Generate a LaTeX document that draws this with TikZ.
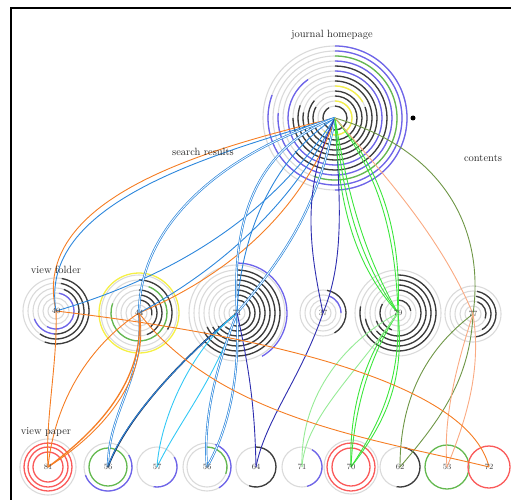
\documentclass[tikz,border=0pt]{standalone}
\pgfdeclarelayer{ringlayer}
\pgfdeclarelayer{edgelayer}
\pgfsetlayers{ringlayer,edgelayer,main}

\definecolor{ringgrey}{RGB}{218,218,218}
\definecolor{arcblack}{RGB}{60,60,60}
\definecolor{arcblue}{RGB}{110,100,235}
\definecolor{arcgreen}{RGB}{100,185,80}
\definecolor{arcyellow}{RGB}{245,240,70}
\definecolor{arcred}{RGB}{250,90,90}
\definecolor{eorange}{RGB}{245,125,35}
\definecolor{eblue}{RGB}{45,135,220}
\definecolor{enavy}{RGB}{45,45,175}
\definecolor{egreen}{RGB}{60,230,60}
\definecolor{elgreen}{RGB}{150,235,150}
\definecolor{eolive}{RGB}{110,150,70}
\definecolor{esalmon}{RGB}{250,170,130}
\definecolor{ecyan}{RGB}{50,200,245}
\definecolor{edark}{RGB}{25,45,85}

% full grey rings around a node
\newcommand\ringsat[2]{\foreach \rr in {#2} {\draw[ring] (#1.center) circle[radius=\rr];}}
% coloured arcs: radius/colour/from/to, angles clockwise from twelve o'clock
\newcommand\arcsat[2]{\foreach \rr/\cc/\aa/\bb in {#2} {%
  \draw[arcline,draw=\cc] (#1.center) ++(\aa-90:\rr) arc[start angle=\aa-90, end angle=\bb-90, radius=\rr];}}

\begin{document}
\begin{tikzpicture}[x=1pt,y=-1pt,
  ring/.style={draw=ringgrey,line width=1.1pt},
  arcline/.style={line width=1.3pt},
  lnk/.style={line width=0.9pt},
  dbl/.style={double=white,double distance=0.8pt,line width=0.7pt},
  num/.style={inner sep=0pt,font=\fontsize{8}{9}\selectfont,text=black!75},
  caption/.style={inner sep=0pt,font=\fontsize{10.5}{12}\selectfont,text=black!85}]
\useasboundingbox (0,0) rectangle (511,500);
\draw[line width=1.8pt] (11,500) -- (11,8) -- (511,8);

% pages
\node[num] (root) at (335,118) {};
\node[num] (n40) at (56,311) {40};
\node[num] (n44) at (139,313) {44};
\node[num] (n71) at (237,313) {71};
\node[num] (n37) at (323,313) {37};
\node[num] (n79) at (398,313) {79};
\node[num] (n77) at (473,314) {77};
\node[num] (b81) at (48,467) {81};
\node[num] (b56) at (108,467) {56};
\node[num] (b57) at (157,467) {57};
\node[num] (b56b) at (207,467) {56};
\node[num] (b64) at (256,467) {64};
\node[num] (b71) at (302,467) {71};
\node[num] (b70) at (351,467) {70};
\node[num] (b62) at (400,467) {62};
\node[num] (b53) at (447,467) {53};
\node[num] (b72) at (489,467) {72};
\node[circle,fill=black,inner sep=0pt,minimum size=5pt] (dot) at (413,118) {};

% captions
\node[caption] (tjh) at (332,35) {journal homepage};
\node[caption] (tsr) at (203,152) {search results};
\node[caption] (tct) at (483,158) {contents};
\node[caption] (tvf) at (56,270) {view folder};
\node[caption] (tvp) at (46,432) {view paper};

\begin{pgfonlayer}{ringlayer}
\ringsat{root}{12,17,...,72}
\arcsat{root}{12/arcblack/0/330, 17/arcyellow/0/220, 22/arcblack/0/300, 27/arcblack/0/310,
  32/arcyellow/0/60, 32/arcblack/70/280, 37/arcblack/0/290, 42/arcblack/0/270,
  47/arcblue/0/325, 52/arcblack/0/230, 57/arcblue/0/275, 62/arcgreen/0/200,
  67/arcblue/0/290, 72/arcblue/0/180}
\ringsat{n40}{8,13,...,33}
\arcsat{n40}{33/arcblack/10/200, 28/arcblack/10/215, 23/arcblack/20/185, 18/arcblue/10/210, 23/arcblue/185/250}
\ringsat{n44}{8,13,...,38}
\draw[arcline,draw=arcyellow] (n44.center) circle[radius=40];
\arcsat{n44}{13/arcblack/0/100, 18/arcblack/0/140, 23/arcblack/0/160, 28/arcgreen/20/290, 33/arcblack/0/120}
\ringsat{n71}{8,13,...,48}
\arcsat{n71}{13/arcblack/0/200, 18/arcblack/0/220, 23/arcblack/0/235, 28/arcblack/0/240,
  33/arcblack/0/245, 38/arcblack/0/240, 43/arcblack/0/230, 50/arcblue/0/150}
\ringsat{n37}{8,13,18,23}
\arcsat{n37}{23/arcblack/10/150, 18/arcblue/20/90}
\ringsat{n79}{8,13,...,43}
\arcsat{n79}{38/arcblack/0/280, 33/arcblack/0/260, 28/arcblack/0/230, 23/arcblack/0/250, 18/arcblack/200/300, 13/arcblack/0/80}
\ringsat{n77}{8,13,...,28}
\arcsat{n77}{23/arcblack/10/175, 18/arcblack/10/150, 13/arcblack/20/110}
% view paper row
\ringsat{b81}{28}
\foreach \rr in {24,20,15} {\draw[arcline,draw=arcred] (b81.center) circle[radius=\rr];}
\ringsat{b56}{24}
\draw[arcline,draw=arcgreen] (b56.center) circle[radius=19];
\arcsat{b56}{24/arcblue/60/250}
\ringsat{b57}{20}
\arcsat{b57}{20/arcblue/60/190}
\ringsat{b56b}{20,24}
\arcsat{b56b}{20/arcgreen/0/110, 24/arcblue/20/150}
\ringsat{b64}{20}
\arcsat{b64}{20/arcblack/0/200}
\ringsat{b71}{20}
\arcsat{b71}{20/arcblue/30/165}
\ringsat{b70}{27}
\foreach \rr in {24,19} {\draw[arcline,draw=arcred] (b70.center) circle[radius=\rr];}
\ringsat{b62}{20}
\arcsat{b62}{20/arcblack/10/190}
\draw[arcline,draw=arcgreen] (b53.center) circle[radius=22];
\draw[arcline,draw=arcred] (b72.center) circle[radius=21];
\end{pgfonlayer}

\begin{pgfonlayer}{edgelayer}
% homepage -> view folder -> view paper
\draw[lnk,eorange] (root.center) .. controls (200,150) and (30,200) .. (n40.center);
\draw[lnk,eblue] (root.center) .. controls (206,156) and (38,204) .. (n40.center);
\draw[lnk,eorange] (n40.center) .. controls (58,360) and (45,420) .. (b81.center);
% back to the homepage
\draw[lnk,eblue] (n40.center) .. controls (230,260) and (300,170) .. (root.center);
\draw[lnk,eorange] (n44.center) .. controls (260,262) and (315,180) .. (root.center);
\draw[lnk,eblue] (n44.center) .. controls (255,250) and (310,170) .. (root.center);
% homepage -> 44 -> 56
\draw[lnk,eblue,dbl] (root.center) .. controls (230,150) and (140,220) .. (n44.center);
\draw[lnk,eblue,dbl] (n44.center) .. controls (145,380) and (108,410) .. (b56.center);
% homepage -> 71
\draw[lnk,eblue,dbl] (root.center) .. controls (250,150) and (232,230) .. (n71.center);
\draw[lnk,eblue] (root.center) .. controls (270,160) and (240,240) .. (n71.center);
\draw[lnk,eblue,dbl] (root.center) .. controls (320,200) and (290,250) .. (n71.center);
% 71 -> view paper
\draw[lnk,edark,line width=1.6pt] (n71.center) .. controls (180,360) and (125,420) .. (b56.center);
\draw[lnk,eblue] (n71.center) .. controls (176,364) and (122,424) .. (b56.center);
\draw[lnk,ecyan] (n71.center) .. controls (215,380) and (180,420) .. (b57.center);
\draw[lnk,ecyan] (n71.center) .. controls (190,350) and (160,420) .. (b57.center);
\draw[lnk,eblue,dbl] (n71.center) .. controls (215,370) and (203,420) .. (b56b.center);
\draw[lnk,eblue,dbl] (n71.center) .. controls (240,380) and (228,430) .. (b56b.center);
\draw[lnk,enavy] (n71.center) .. controls (252,380) and (255,420) .. (b64.center);
% homepage -> 37 -> 64
\draw[lnk,enavy] (root.center) .. controls (340,200) and (345,260) .. (n37.center);
\draw[lnk,enavy] (root.center) .. controls (300,190) and (310,250) .. (n37.center);
\draw[lnk,enavy] (n37.center) .. controls (300,380) and (265,420) .. (b64.center);
% homepage -> 79 -> 70, 71
\draw[lnk,egreen] (root.center) .. controls (338,200) and (352,262) .. (n79.center);
\draw[lnk,egreen] (root.center) .. controls (343,198) and (358,258) .. (n79.center);
\draw[lnk,egreen] (root.center) .. controls (348,196) and (364,254) .. (n79.center);
\draw[lnk,egreen] (root.center) .. controls (385,180) and (396,250) .. (n79.center);
\draw[lnk,egreen] (root.center) .. controls (390,178) and (401,250) .. (n79.center);
\draw[lnk,egreen] (n79.center) .. controls (360,360) and (349,420) .. (b70.center);
\draw[lnk,egreen] (n79.center) .. controls (366,360) and (353,420) .. (b70.center);
\draw[lnk,egreen] (n79.center) .. controls (400,380) and (382,420) .. (b70.center);
\draw[lnk,egreen] (n79.center) .. controls (405,380) and (386,422) .. (b70.center);
\draw[lnk,elgreen] (n79.center) .. controls (350,380) and (305,420) .. (b71.center);
\draw[lnk,elgreen] (n79.center) .. controls (330,350) and (300,410) .. (b71.center);
% homepage -> 77 -> 62, 53
\draw[lnk,eolive] (root.center) .. controls (445,150) and (485,230) .. (n77.center);
\draw[lnk,eolive] (n77.center) .. controls (425,350) and (400,400) .. (b62.center);
\draw[lnk,eolive] (n77.center) .. controls (470,380) and (440,420) .. (b62.center);
\draw[lnk,esalmon] (root.center) .. controls (380,170) and (440,235) .. (n77.center);
\draw[lnk,esalmon] (n77.center) .. controls (455,370) and (443,420) .. (b53.center);
\draw[lnk,esalmon] (n77.center) .. controls (482,370) and (466,420) .. (b53.center);
% 44 -> 81, 40 / 44 -> 72
\draw[lnk,eorange,line width=1.3pt] (n44.center) .. controls (145,375) and (105,425) .. (b81.center);
\draw[lnk,eorange] (n44.center) .. controls (150,372) and (110,428) .. (b81.center);
\draw[lnk,eorange] (n44.center) .. controls (90,345) and (55,400) .. (b81.center);
\draw[lnk,eorange] (n40.center) .. controls (300,340) and (470,390) .. (b72.center);
\draw[lnk,eorange] (n44.center) .. controls (220,420) and (380,440) .. (b72.center);
\end{pgfonlayer}
\end{tikzpicture}
\end{document}
